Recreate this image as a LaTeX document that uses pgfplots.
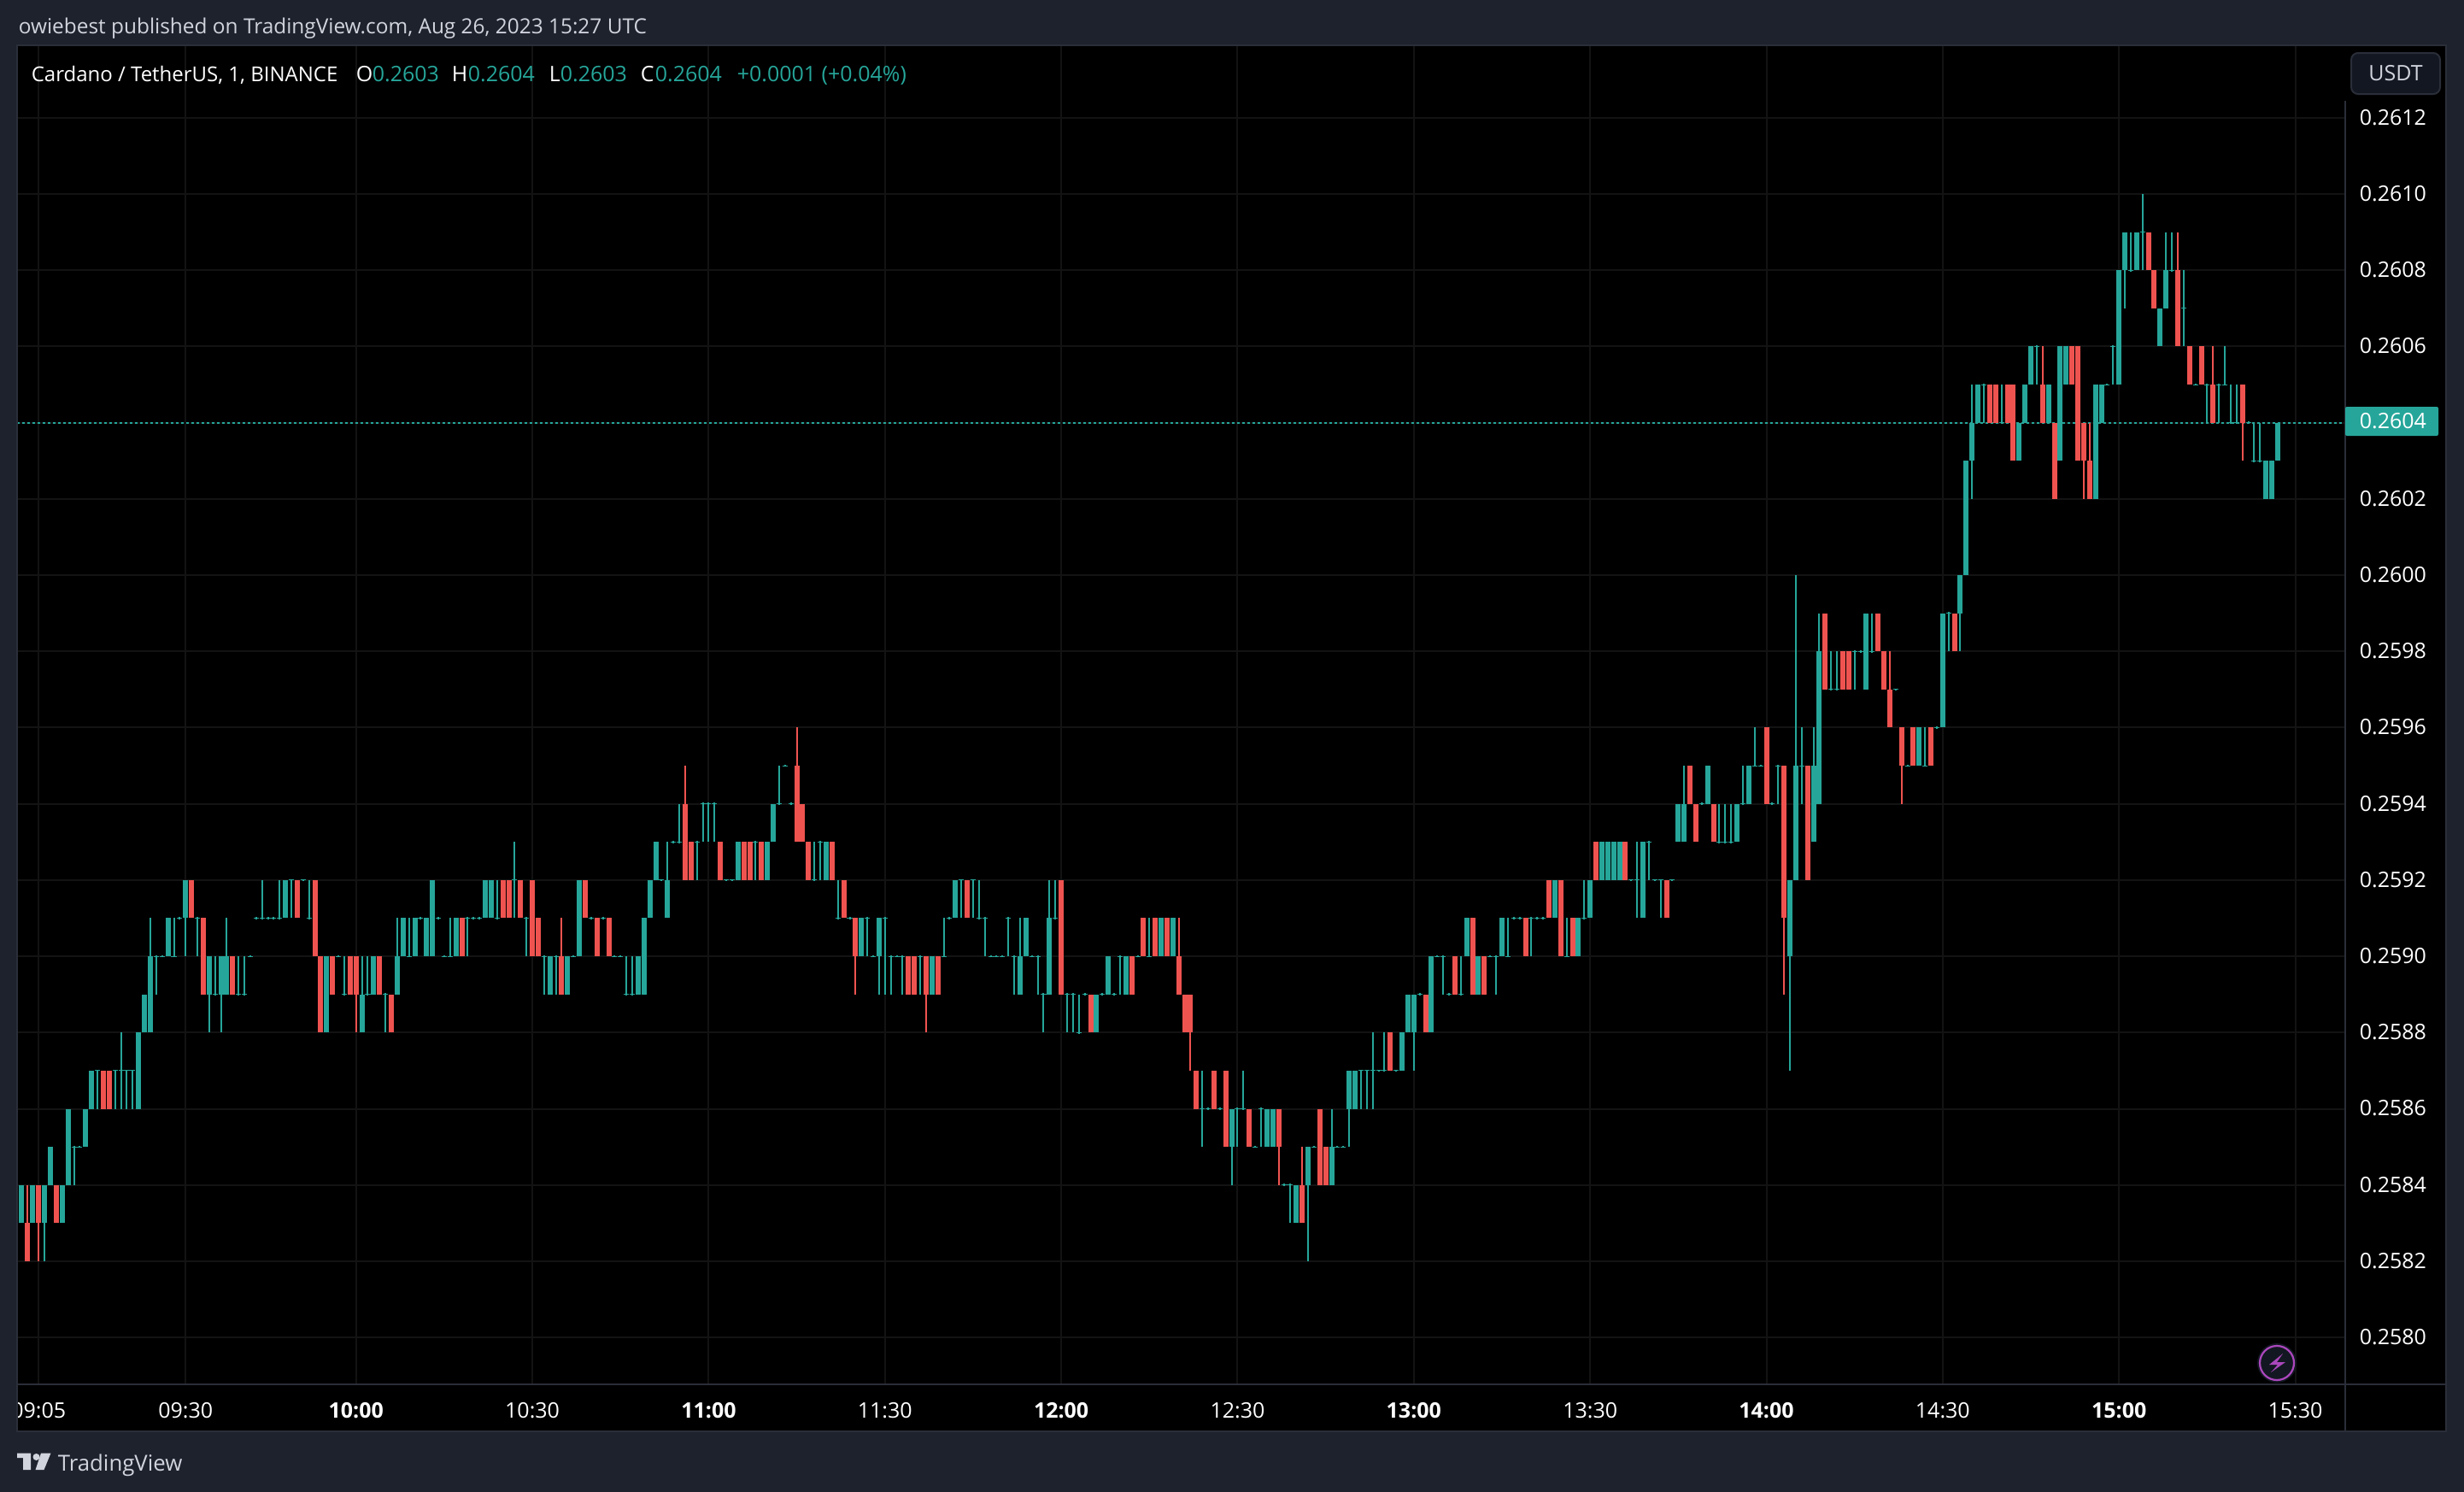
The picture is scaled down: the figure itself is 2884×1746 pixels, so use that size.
\documentclass[border=0pt]{standalone}
\usepackage{pgfplots}
\usepackage{pgfplotstable}
\usepackage{fontspec}
\pgfplotsset{compat=1.18}
\setmainfont{Open Sans}
\definecolor{panel}{HTML}{1E222D}
\definecolor{frame}{HTML}{2A2E39}
\definecolor{gridc}{HTML}{131313}
\definecolor{upc}{HTML}{26A69A}
\definecolor{downc}{HTML}{EF5350}
\definecolor{headc}{HTML}{D1D4DC}
\definecolor{btnc}{HTML}{131722}
\definecolor{boltc}{HTML}{AB47BC}
\pgfplotstableread{
x o h l c
2 0.2584 0.2584 0.2583 0.2583
3 0.2583 0.2584 0.2583 0.2584
4 0.2583 0.2584 0.2582 0.2582
5 0.2583 0.2584 0.2583 0.2584
6 0.2584 0.2584 0.2582 0.2583
7 0.2583 0.2584 0.2582 0.2584
8 0.2584 0.2585 0.2584 0.2585
9 0.2584 0.2584 0.2583 0.2583
10 0.2583 0.2584 0.2583 0.2584
11 0.2584 0.2586 0.2584 0.2586
12 0.2585 0.2585 0.2584 0.2585
13 0.2585 0.2585 0.2585 0.2585
14 0.2585 0.2586 0.2585 0.2586
15 0.2586 0.2587 0.2586 0.2587
16 0.2587 0.2587 0.2586 0.2587
17 0.2587 0.2587 0.2586 0.2586
18 0.2587 0.2587 0.2586 0.2586
19 0.2587 0.2587 0.2586 0.2587
20 0.2587 0.2588 0.2586 0.2587
21 0.2587 0.2587 0.2586 0.2587
22 0.2587 0.2587 0.2586 0.2587
23 0.2586 0.2588 0.2586 0.2588
24 0.2588 0.2589 0.2588 0.2589
25 0.2588 0.2591 0.2588 0.2590
26 0.2590 0.2590 0.2589 0.2590
27 0.2590 0.2590 0.2590 0.2590
28 0.2590 0.2591 0.2590 0.2591
29 0.2590 0.2591 0.2590 0.2590
30 0.2591 0.2591 0.2591 0.2591
31 0.2591 0.2592 0.2590 0.2592
32 0.2592 0.2592 0.2591 0.2591
33 0.2591 0.2591 0.2590 0.2591
34 0.2591 0.2591 0.2589 0.2589
35 0.2589 0.2590 0.2588 0.2590
36 0.2589 0.2590 0.2589 0.2589
37 0.2589 0.2590 0.2588 0.2590
38 0.2589 0.2591 0.2589 0.2590
39 0.2590 0.2590 0.2589 0.2589
40 0.2589 0.2590 0.2589 0.2589
41 0.2589 0.2590 0.2589 0.2589
42 0.2590 0.2590 0.2590 0.2590
43 0.2591 0.2591 0.2591 0.2591
44 0.2591 0.2592 0.2591 0.2591
45 0.2591 0.2591 0.2591 0.2591
46 0.2591 0.2591 0.2591 0.2591
47 0.2591 0.2592 0.2591 0.2591
48 0.2591 0.2592 0.2591 0.2592
49 0.2592 0.2592 0.2591 0.2592
50 0.2592 0.2592 0.2591 0.2591
51 0.2592 0.2592 0.2592 0.2592
52 0.2591 0.2592 0.2591 0.2591
53 0.2592 0.2592 0.2590 0.2590
54 0.2590 0.2590 0.2588 0.2588
55 0.2588 0.2590 0.2588 0.2590
56 0.2590 0.2590 0.2589 0.2589
57 0.2590 0.2590 0.2590 0.2590
58 0.2589 0.2590 0.2589 0.2589
59 0.2590 0.2590 0.2589 0.2589
60 0.2590 0.2590 0.2588 0.2589
61 0.2588 0.2590 0.2588 0.2589
62 0.2589 0.2590 0.2589 0.2589
63 0.2589 0.2590 0.2589 0.2590
64 0.2590 0.2590 0.2589 0.2589
65 0.2589 0.2589 0.2588 0.2589
66 0.2589 0.2589 0.2588 0.2588
67 0.2589 0.2591 0.2589 0.2590
68 0.2590 0.2591 0.2590 0.2591
69 0.2590 0.2591 0.2590 0.2590
70 0.2590 0.2591 0.2590 0.2591
71 0.2591 0.2591 0.2591 0.2591
72 0.2590 0.2591 0.2590 0.2591
73 0.2590 0.2592 0.2590 0.2592
74 0.2591 0.2591 0.2591 0.2591
75 0.2590 0.2590 0.2590 0.2590
76 0.2590 0.2591 0.2590 0.2590
77 0.2590 0.2591 0.2590 0.2591
78 0.2591 0.2591 0.2590 0.2590
79 0.2591 0.2591 0.2590 0.2591
80 0.2591 0.2591 0.2591 0.2591
81 0.2591 0.2591 0.2591 0.2591
82 0.2591 0.2592 0.2591 0.2592
83 0.2591 0.2592 0.2591 0.2592
84 0.2591 0.2592 0.2591 0.2591
85 0.2592 0.2592 0.2591 0.2591
86 0.2592 0.2592 0.2591 0.2591
87 0.2592 0.2593 0.2591 0.2592
88 0.2592 0.2592 0.2591 0.2591
89 0.2591 0.2591 0.2590 0.2591
90 0.2592 0.2592 0.2590 0.2590
91 0.2591 0.2591 0.2590 0.2590
92 0.2590 0.2590 0.2589 0.2590
93 0.2589 0.2590 0.2589 0.2590
94 0.2590 0.2590 0.2589 0.2590
95 0.2590 0.2591 0.2589 0.2589
96 0.2589 0.2590 0.2589 0.2590
97 0.2590 0.2590 0.2590 0.2590
98 0.2590 0.2592 0.2590 0.2592
99 0.2592 0.2592 0.2591 0.2591
100 0.2591 0.2591 0.2591 0.2591
101 0.2591 0.2591 0.2590 0.2590
102 0.2591 0.2591 0.2591 0.2591
103 0.2591 0.2591 0.2590 0.2590
104 0.2590 0.2590 0.2590 0.2590
105 0.2590 0.2590 0.2590 0.2590
106 0.2589 0.2590 0.2589 0.2589
107 0.2589 0.2590 0.2589 0.2589
108 0.2589 0.2590 0.2589 0.2590
109 0.2589 0.2591 0.2589 0.2591
110 0.2591 0.2592 0.2591 0.2592
111 0.2592 0.2593 0.2592 0.2593
112 0.2592 0.2592 0.2592 0.2592
113 0.2591 0.2593 0.2591 0.2592
114 0.2593 0.2593 0.2593 0.2593
115 0.2593 0.2594 0.2593 0.2593
116 0.2594 0.2595 0.2592 0.2592
117 0.2593 0.2593 0.2592 0.2592
118 0.2593 0.2593 0.2592 0.2593
119 0.2594 0.2594 0.2593 0.2594
120 0.2594 0.2594 0.2593 0.2594
121 0.2594 0.2594 0.2593 0.2594
122 0.2593 0.2593 0.2592 0.2592
123 0.2592 0.2592 0.2592 0.2592
124 0.2592 0.2592 0.2592 0.2592
125 0.2592 0.2593 0.2592 0.2593
126 0.2593 0.2593 0.2592 0.2592
127 0.2593 0.2593 0.2592 0.2592
128 0.2593 0.2593 0.2592 0.2593
129 0.2593 0.2593 0.2592 0.2592
130 0.2592 0.2593 0.2592 0.2593
131 0.2593 0.2594 0.2593 0.2594
132 0.2594 0.2595 0.2594 0.2594
133 0.2595 0.2595 0.2595 0.2595
134 0.2594 0.2594 0.2594 0.2594
135 0.2595 0.2596 0.2593 0.2593
136 0.2594 0.2594 0.2593 0.2593
137 0.2593 0.2593 0.2592 0.2592
138 0.2592 0.2593 0.2592 0.2592
139 0.2593 0.2593 0.2592 0.2593
140 0.2592 0.2593 0.2592 0.2593
141 0.2593 0.2593 0.2592 0.2592
142 0.2591 0.2592 0.2591 0.2591
143 0.2592 0.2592 0.2591 0.2591
144 0.2591 0.2591 0.2591 0.2591
145 0.2591 0.2591 0.2589 0.2590
146 0.2590 0.2591 0.2590 0.2591
147 0.2591 0.2591 0.2590 0.2591
148 0.2590 0.2590 0.2590 0.2590
149 0.2590 0.2591 0.2589 0.2591
150 0.2591 0.2591 0.2589 0.2591
151 0.2590 0.2590 0.2589 0.2590
152 0.2590 0.2590 0.2590 0.2590
153 0.2590 0.2590 0.2589 0.2590
154 0.2590 0.2590 0.2589 0.2589
155 0.2590 0.2590 0.2589 0.2589
156 0.2590 0.2590 0.2589 0.2590
157 0.2590 0.2590 0.2588 0.2589
158 0.2589 0.2590 0.2589 0.2590
159 0.2590 0.2590 0.2589 0.2589
160 0.2590 0.2591 0.2590 0.2590
161 0.2591 0.2591 0.2591 0.2591
162 0.2591 0.2592 0.2591 0.2592
163 0.2592 0.2592 0.2591 0.2592
164 0.2592 0.2592 0.2591 0.2591
165 0.2592 0.2592 0.2591 0.2592
166 0.2591 0.2592 0.2591 0.2591
167 0.2591 0.2591 0.2590 0.2591
168 0.2590 0.2590 0.2590 0.2590
169 0.2590 0.2590 0.2590 0.2590
170 0.2590 0.2590 0.2590 0.2590
171 0.2591 0.2591 0.2590 0.2591
172 0.2590 0.2590 0.2589 0.2590
173 0.2589 0.2591 0.2589 0.2590
174 0.2590 0.2591 0.2590 0.2591
175 0.2590 0.2590 0.2590 0.2590
176 0.2590 0.2590 0.2589 0.2590
177 0.2589 0.2589 0.2588 0.2589
178 0.2589 0.2592 0.2589 0.2591
179 0.2591 0.2592 0.2591 0.2591
180 0.2592 0.2592 0.2589 0.2589
181 0.2589 0.2589 0.2588 0.2589
182 0.2589 0.2589 0.2588 0.2589
183 0.2588 0.2589 0.2588 0.2588
184 0.2589 0.2589 0.2589 0.2589
185 0.2589 0.2589 0.2588 0.2588
186 0.2588 0.2589 0.2588 0.2589
187 0.2589 0.2589 0.2589 0.2589
188 0.2589 0.2590 0.2589 0.2590
189 0.2589 0.2589 0.2589 0.2589
190 0.2590 0.2590 0.2589 0.2590
191 0.2589 0.2590 0.2589 0.2590
192 0.2590 0.2590 0.2589 0.2589
193 0.2590 0.2590 0.2590 0.2590
194 0.2591 0.2591 0.2590 0.2590
195 0.2590 0.2591 0.2590 0.2590
196 0.2591 0.2591 0.2590 0.2590
197 0.2590 0.2591 0.2590 0.2591
198 0.2591 0.2591 0.2590 0.2590
199 0.2590 0.2591 0.2590 0.2591
200 0.2590 0.2591 0.2589 0.2589
201 0.2589 0.2589 0.2588 0.2588
202 0.2589 0.2589 0.2587 0.2588
203 0.2587 0.2587 0.2586 0.2586
204 0.2586 0.2587 0.2585 0.2586
205 0.2586 0.2586 0.2586 0.2586
206 0.2587 0.2587 0.2586 0.2586
207 0.2586 0.2586 0.2586 0.2586
208 0.2587 0.2587 0.2585 0.2585
209 0.2585 0.2586 0.2584 0.2586
210 0.2586 0.2586 0.2585 0.2586
211 0.2586 0.2587 0.2586 0.2586
212 0.2586 0.2586 0.2585 0.2585
213 0.2585 0.2585 0.2585 0.2585
214 0.2586 0.2586 0.2585 0.2586
215 0.2585 0.2586 0.2585 0.2586
216 0.2585 0.2586 0.2585 0.2586
217 0.2586 0.2586 0.2584 0.2585
218 0.2584 0.2584 0.2584 0.2584
219 0.2584 0.2584 0.2583 0.2584
220 0.2583 0.2584 0.2583 0.2584
221 0.2584 0.2585 0.2583 0.2583
222 0.2584 0.2585 0.2582 0.2585
223 0.2585 0.2585 0.2585 0.2585
224 0.2586 0.2586 0.2584 0.2584
225 0.2585 0.2585 0.2584 0.2584
226 0.2584 0.2586 0.2584 0.2585
227 0.2585 0.2585 0.2585 0.2585
228 0.2585 0.2585 0.2585 0.2585
229 0.2586 0.2587 0.2585 0.2587
230 0.2586 0.2587 0.2586 0.2587
231 0.2587 0.2587 0.2586 0.2587
232 0.2587 0.2587 0.2586 0.2587
233 0.2587 0.2588 0.2586 0.2587
234 0.2587 0.2587 0.2587 0.2587
235 0.2587 0.2588 0.2587 0.2587
236 0.2588 0.2588 0.2587 0.2587
237 0.2587 0.2587 0.2587 0.2587
238 0.2587 0.2588 0.2587 0.2588
239 0.2588 0.2589 0.2588 0.2589
240 0.2588 0.2589 0.2587 0.2589
241 0.2589 0.2589 0.2589 0.2589
242 0.2589 0.2589 0.2588 0.2588
243 0.2588 0.2590 0.2588 0.2590
244 0.2590 0.2590 0.2590 0.2590
245 0.2590 0.2590 0.2589 0.2590
246 0.2589 0.2589 0.2589 0.2589
247 0.2590 0.2590 0.2589 0.2589
248 0.2589 0.2590 0.2589 0.2589
249 0.2590 0.2591 0.2590 0.2591
250 0.2591 0.2591 0.2589 0.2589
251 0.2589 0.2590 0.2589 0.2590
252 0.2590 0.2590 0.2589 0.2589
253 0.2590 0.2590 0.2590 0.2590
254 0.2590 0.2590 0.2589 0.2590
255 0.2590 0.2591 0.2590 0.2591
256 0.2590 0.2591 0.2590 0.2590
257 0.2591 0.2591 0.2591 0.2591
258 0.2591 0.2591 0.2591 0.2591
259 0.2591 0.2591 0.2590 0.2590
260 0.2591 0.2591 0.2590 0.2591
261 0.2591 0.2591 0.2591 0.2591
262 0.2591 0.2591 0.2591 0.2591
263 0.2592 0.2592 0.2591 0.2591
264 0.2591 0.2592 0.2591 0.2592
265 0.2592 0.2592 0.2590 0.2590
266 0.2590 0.2591 0.2590 0.2590
267 0.2591 0.2591 0.2590 0.2590
268 0.2590 0.2591 0.2590 0.2591
269 0.2591 0.2592 0.2591 0.2591
270 0.2591 0.2592 0.2591 0.2592
271 0.2593 0.2593 0.2592 0.2592
272 0.2592 0.2593 0.2592 0.2593
273 0.2592 0.2593 0.2592 0.2593
274 0.2592 0.2593 0.2592 0.2593
275 0.2592 0.2593 0.2592 0.2593
276 0.2593 0.2593 0.2592 0.2592
277 0.2592 0.2592 0.2592 0.2592
278 0.2592 0.2593 0.2591 0.2592
279 0.2591 0.2593 0.2591 0.2593
280 0.2593 0.2593 0.2592 0.2593
281 0.2592 0.2592 0.2592 0.2592
282 0.2592 0.2592 0.2591 0.2592
283 0.2592 0.2592 0.2591 0.2591
284 0.2592 0.2592 0.2592 0.2592
285 0.2593 0.2594 0.2593 0.2594
286 0.2593 0.2595 0.2593 0.2594
287 0.2595 0.2595 0.2594 0.2594
288 0.2594 0.2594 0.2593 0.2593
289 0.2594 0.2594 0.2594 0.2594
290 0.2594 0.2595 0.2594 0.2595
291 0.2594 0.2594 0.2593 0.2593
292 0.2593 0.2594 0.2593 0.2593
293 0.2593 0.2594 0.2593 0.2593
294 0.2593 0.2594 0.2593 0.2593
295 0.2593 0.2594 0.2593 0.2594
296 0.2594 0.2595 0.2594 0.2594
297 0.2594 0.2595 0.2594 0.2595
298 0.2595 0.2596 0.2595 0.2595
299 0.2595 0.2595 0.2595 0.2595
300 0.2596 0.2596 0.2594 0.2594
301 0.2594 0.2594 0.2594 0.2594
302 0.2595 0.2595 0.2594 0.2595
303 0.2595 0.2595 0.2589 0.2591
304 0.2590 0.2592 0.2587 0.2592
305 0.2592 0.2600 0.2592 0.2595
306 0.2595 0.2596 0.2594 0.2595
307 0.2595 0.2595 0.2592 0.2592
308 0.2593 0.2596 0.2593 0.2595
309 0.2594 0.2599 0.2594 0.2598
310 0.2599 0.2599 0.2597 0.2597
311 0.2597 0.2598 0.2597 0.2597
312 0.2597 0.2598 0.2597 0.2597
313 0.2598 0.2598 0.2597 0.2597
314 0.2598 0.2598 0.2597 0.2597
315 0.2598 0.2598 0.2597 0.2598
316 0.2598 0.2598 0.2598 0.2598
317 0.2597 0.2599 0.2597 0.2599
318 0.2598 0.2599 0.2598 0.2598
319 0.2599 0.2599 0.2598 0.2598
320 0.2598 0.2598 0.2597 0.2597
321 0.2597 0.2598 0.2596 0.2596
322 0.2597 0.2597 0.2597 0.2597
323 0.2596 0.2596 0.2594 0.2595
324 0.2595 0.2595 0.2595 0.2595
325 0.2596 0.2596 0.2595 0.2595
326 0.2595 0.2596 0.2595 0.2596
327 0.2595 0.2596 0.2595 0.2595
328 0.2596 0.2596 0.2595 0.2595
329 0.2596 0.2596 0.2596 0.2596
330 0.2596 0.2599 0.2596 0.2599
331 0.2599 0.2599 0.2598 0.2599
332 0.2599 0.2599 0.2598 0.2598
333 0.2599 0.2600 0.2598 0.2600
334 0.2600 0.2603 0.2600 0.2603
335 0.2603 0.2605 0.2602 0.2604
336 0.2604 0.2605 0.2604 0.2605
337 0.2605 0.2605 0.2604 0.2605
338 0.2605 0.2605 0.2604 0.2604
339 0.2605 0.2605 0.2604 0.2604
340 0.2604 0.2605 0.2604 0.2604
341 0.2605 0.2605 0.2604 0.2604
342 0.2605 0.2605 0.2603 0.2603
343 0.2603 0.2604 0.2603 0.2604
344 0.2604 0.2605 0.2604 0.2605
345 0.2605 0.2606 0.2605 0.2606
346 0.2606 0.2606 0.2605 0.2606
347 0.2605 0.2606 0.2604 0.2604
348 0.2604 0.2605 0.2604 0.2605
349 0.2604 0.2604 0.2602 0.2602
350 0.2603 0.2606 0.2603 0.2606
351 0.2605 0.2606 0.2605 0.2606
352 0.2606 0.2606 0.2605 0.2605
353 0.2606 0.2606 0.2603 0.2603
354 0.2604 0.2604 0.2602 0.2603
355 0.2603 0.2604 0.2602 0.2602
356 0.2602 0.2605 0.2602 0.2605
357 0.2604 0.2605 0.2604 0.2605
358 0.2605 0.2605 0.2605 0.2605
359 0.2606 0.2606 0.2605 0.2606
360 0.2605 0.2608 0.2605 0.2608
361 0.2608 0.2609 0.2607 0.2609
362 0.2608 0.2609 0.2608 0.2608
363 0.2608 0.2609 0.2608 0.2609
364 0.2609 0.2610 0.2608 0.2609
365 0.2609 0.2609 0.2608 0.2608
366 0.2608 0.2608 0.2607 0.2607
367 0.2606 0.2607 0.2606 0.2607
368 0.2607 0.2609 0.2607 0.2608
369 0.2608 0.2609 0.2608 0.2608
370 0.2608 0.2609 0.2606 0.2606
371 0.2607 0.2608 0.2606 0.2607
372 0.2606 0.2606 0.2605 0.2605
373 0.2605 0.2605 0.2605 0.2605
374 0.2606 0.2606 0.2605 0.2605
375 0.2605 0.2605 0.2604 0.2605
376 0.2605 0.2606 0.2604 0.2604
377 0.2605 0.2605 0.2604 0.2605
378 0.2605 0.2606 0.2605 0.2605
379 0.2604 0.2605 0.2604 0.2604
380 0.2604 0.2605 0.2604 0.2604
381 0.2605 0.2605 0.2603 0.2604
382 0.2604 0.2604 0.2604 0.2604
383 0.2603 0.2604 0.2603 0.2603
384 0.2603 0.2604 0.2603 0.2603
385 0.2602 0.2603 0.2602 0.2603
386 0.2602 0.2603 0.2602 0.2603
387 0.2603 0.2604 0.2603 0.2604
}\bars
% one path per kind of stroke, built from the table's rows
\gdef\wicku{}\gdef\wickd{}\gdef\bodyu{}\gdef\bodyd{}\gdef\dash{}\gdef\blob{}
\def\tailof0.#1\relax{#1}
\foreach \r in {0,...,385}{%
  \pgfplotstablegetelem{\r}{x}\of\bars\let\vx\pgfplotsretval
  \pgfplotstablegetelem{\r}{o}\of\bars\let\vo\pgfplotsretval
  \pgfplotstablegetelem{\r}{h}\of\bars\let\vh\pgfplotsretval
  \pgfplotstablegetelem{\r}{l}\of\bars\let\vl\pgfplotsretval
  \pgfplotstablegetelem{\r}{c}\of\bars\let\vc\pgfplotsretval
  \ifdim\vc pt<\vo pt
    \ifdim\vh pt>\vl pt \xdef\wickd{\wickd(\vx,\vl)(\vx,\vh)(\vx,nan)}\fi
    \xdef\bodyd{\bodyd(\vx,\vc)(\vx,\vo)(\vx,nan)}%
  \else
    \ifdim\vh pt>\vl pt \xdef\wicku{\wicku(\vx,\vl)(\vx,\vh)(\vx,nan)}\fi
    \ifdim\vc pt>\vo pt
      \xdef\bodyu{\bodyu(\vx,\vo)(\vx,\vc)(\vx,nan)}%
    \else
      \xdef\dash{\dash(\the\numexpr\vx-1\relax.56,\vo)(\vx.44,\vo)(\vx,nan)}%
      \xdef\blob{\blob(\vx,0.\the\numexpr\expandafter\tailof\vo\relax*100-3\relax)(\vx,0.\the\numexpr\expandafter\tailof\vo\relax*100+3\relax)(\vx,nan)}%
    \fi
  \fi
}
\newcommand\plb[2]{\addplot[forget plot,no marks,unbounded coords=jump,#2] coordinates {#1};}
\newcommand\pl[2]{\expandafter\plb\expandafter{#2}{#1}}
\newcommand{\tf}{\fontsize{6.25}{7.5}\selectfont}
\begin{document}
\begin{tikzpicture}
\begin{scope}[x=0.25pt,y=-0.25pt]
\path[use as bounding box,fill=panel] (0,0) rectangle (2884,1746);
\fill[black] (20,53) rectangle (2863,1675);
\end{scope}
\begin{axis}[
  at={(5pt,-405pt)},anchor=south west,scale only axis,
  width=681.25pt,height=391.75pt,
  xmin=2.32,xmax=398.5,ymin=0.257877,ymax=0.26139,
  axis line style={draw=none},
  major tick length=0pt,
  xtick={6,31,60,90,120,150,180,210,240,270,300,330,360,390},
  xticklabels={09:05,09:30,\textbf{10:00},10:30,\textbf{11:00},11:30,\textbf{12:00},12:30,\textbf{13:00},13:30,\textbf{14:00},14:30,\textbf{15:00},15:30},
  ytick={0.2580,0.2582,0.2584,0.2586,0.2588,0.2590,0.2592,0.2594,0.2596,0.2598,0.2600,0.2602,0.2604,0.2606,0.2608,0.2610,0.2612},
  ymajorgrids,xmajorgrids,
  grid style={gridc,line width=0.5pt},
  ytick pos=right,xtick pos=bottom,
  scaled y ticks=false,
  yticklabel style={/pgf/number format/fixed,/pgf/number format/fixed zerofill,/pgf/number format/precision=4,/pgf/number format/assume math mode=true,
    font=\tf,text=white,anchor=base west,inner sep=0pt,xshift=4pt,yshift=-2.1pt},
  xticklabel style={font=\tf,text=white,anchor=base,inner sep=0pt,yshift=-9.75pt},
]
\addplot[upc,line width=0.5pt,dash pattern=on 0.75pt off 0.75pt,no marks,forget plot] coordinates {(2.32,0.2604)(398.5,0.2604)};
\pl{upc,line width=0.5pt}\wicku
\pl{downc,line width=0.5pt}\wickd
\pl{upc,line width=1.5pt}\bodyu
\pl{downc,line width=1.5pt}\bodyd
\pl{upc,line width=0.25pt}\dash
\pl{upc,line width=0.5pt}\blob
\end{axis}
\begin{scope}[x=0.25pt,y=-0.25pt]
% frame
\fill[panel] (0,40) rectangle (20,1690);
\draw[frame,line width=0.5pt] (20,53) rectangle (2863,1675);
\draw[frame,line width=0.5pt] (20,1620) -- (2863,1620);
\draw[frame,line width=0.5pt] (2745,118) -- (2745,1675);
% price tag
\fill[upc,rounded corners=0.5pt] (2745,476) rectangle (2854,510);
\node[anchor=base west,inner sep=0pt,text=white,font=\tf] at (2761,501) {0.2604};
% currency button
\draw[frame,fill=btnc,line width=0.5pt,rounded corners=2pt] (2752,62) rectangle (2856,110);
\node[inner sep=0pt,text=headc,font=\tf] at (2804,86) {USDT};
% bolt
\fill[btnc] (2665,1595) circle (23);
\draw[boltc,fill=btnc,line width=0.55pt] (2665,1595) circle (20);
\fill[boltc] (2672,1584) -- (2656,1597) -- (2666,1597) -- (2658,1606) -- (2675,1594) -- (2665,1594) -- cycle;
% header
\node[anchor=base west,inner sep=0pt,text=headc,font=\fontsize{6.1}{7}\selectfont] at (21,39) {owiebest published on TradingView.com, Aug 26, 2023 15:27 UTC};
% legend
\tikzset{lg/.style={anchor=base west,inner sep=0pt,font=\tf},lgw/.style={lg,text=white},lgu/.style={lg,text=upc}}
\node[lgw,font=\fontsize{6.0}{7}\selectfont] at (36,95) {Cardano / TetherUS, 1, BINANCE};
\node[lgw] at (416,95) {O};
\node[lgu] at (435,95) {0.2603};
\node[lgw] at (528,95) {H};
\node[lgu] at (547,95) {0.2604};
\node[lgw] at (642,95) {L};
\node[lgu] at (655,95) {0.2603};
\node[lgw] at (749,95) {C};
\node[lgu] at (766,95) {0.2604};
\node[lgu] at (862,95) {+0.0001 (+0.04\%)};
% footer logo
\fill[headc] (20,1700.5) -- (36,1700.5) -- (36,1720) -- (27,1720) -- (27,1706) -- (20,1706) -- cycle;
\fill[headc] (42.5,1705) circle (4);
\fill[headc] (48,1700.5) -- (59.5,1700.5) -- (51.5,1720) -- (41.5,1720) -- cycle;
\node[anchor=base west,inner sep=0pt,text=headc,font=\fontsize{6.45}{8}\selectfont] at (67,1721) {TradingView};
\end{scope}
\end{tikzpicture}
\end{document}
